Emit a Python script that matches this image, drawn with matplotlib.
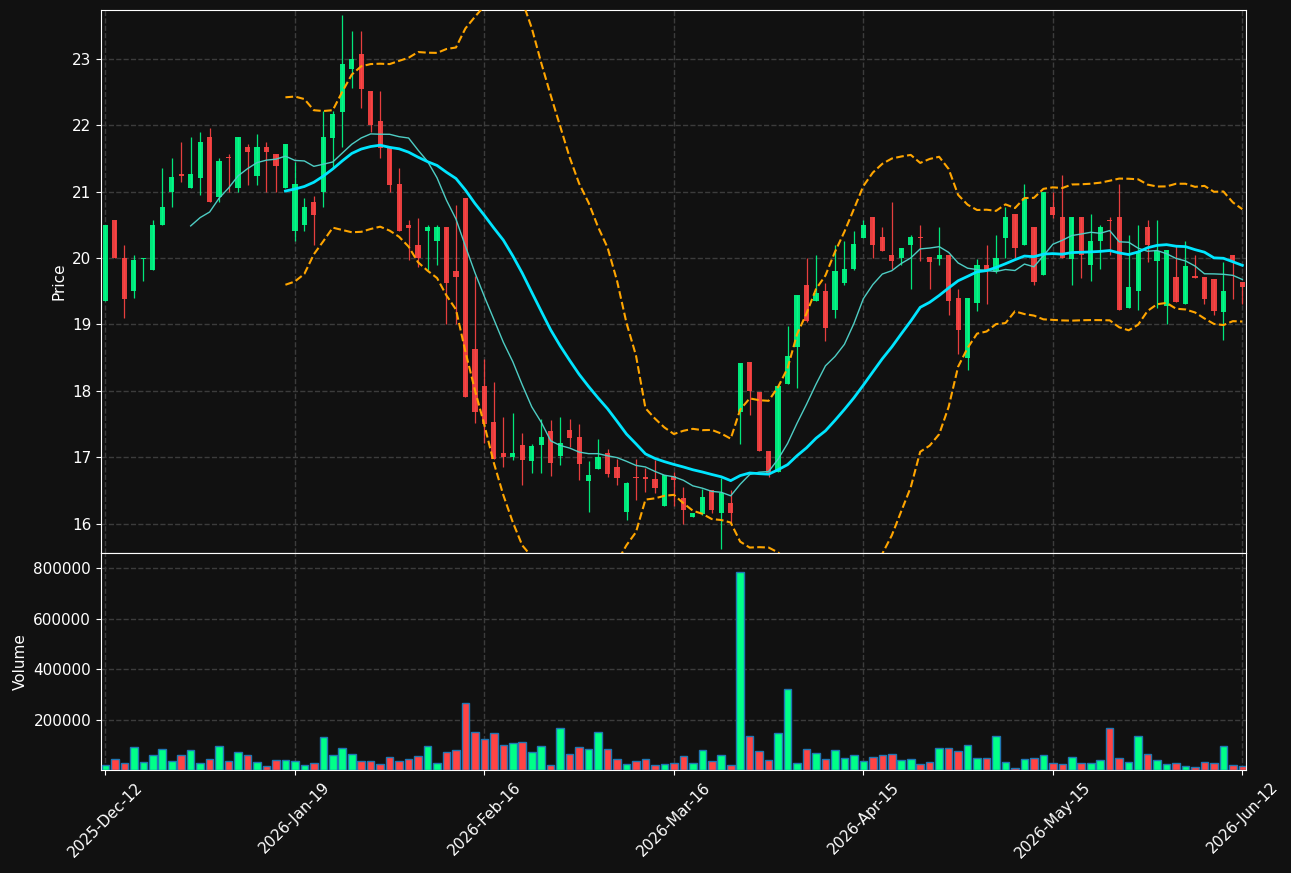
"""Candlestick chart with SMA10 / SMA20, Bollinger bands and a volume panel."""
import matplotlib

matplotlib.use("Agg")
import matplotlib.pyplot as plt
import numpy as np
import pandas as pd


# daily OHLC (bar index 0 = 2025-Dec-12, 120 = 2026-Jun-12)
opens = [
    19.35, 20.57, 20.00, 19.50, 19.98, 19.82, 20.50, 20.99, 21.26, 21.05,
    21.21, 21.82, 20.92, 21.52, 21.05, 21.67, 21.24, 21.67, 21.56, 21.05,
    20.40, 20.50, 20.85, 20.99, 21.81, 22.20, 22.84, 23.07, 22.51, 22.06,
    21.66, 21.11, 20.50, 20.20, 20.40, 20.26, 20.46, 19.81, 20.91, 18.63,
    18.07, 17.53, 17.07, 17.00, 17.19, 16.94, 17.19, 17.40, 17.02, 17.41,
    17.31, 16.65, 16.83, 17.07, 16.85, 16.18, 16.70, 16.70, 16.67, 16.27,
    16.72, 16.39, 16.10, 16.15, 16.51, 16.17, 16.31, 17.69, 18.43, 17.99,
    17.09, 16.78, 18.11, 18.66, 19.60, 19.36, 19.51, 19.22, 19.62, 19.83,
    20.30, 20.61, 20.31, 20.05, 20.00, 20.19, 20.31, 20.01, 19.99, 20.05,
    19.40, 18.49, 19.33, 19.90, 19.81, 20.30, 20.66, 20.19, 20.46, 19.75,
    20.76, 20.61, 19.99, 20.61, 19.89, 20.26, 20.57, 20.61, 19.25, 19.51,
    20.46, 19.95, 19.28, 19.71, 19.31, 19.73, 19.72, 19.69, 19.19, 20.05,
    19.64,
]
highs = [
    20.50, 20.57, 20.20, 20.05, 20.00, 20.57, 21.36, 21.51, 21.75, 21.82,
    21.90, 21.95, 21.51, 21.56, 21.82, 21.71, 21.86, 21.75, 21.56, 21.71,
    21.44, 20.90, 20.94, 22.21, 22.21, 23.65, 23.41, 23.41, 22.51, 22.51,
    21.66, 21.36, 20.57, 20.60, 20.50, 20.50, 20.46, 20.80, 20.91, 19.73,
    18.48, 18.14, 17.61, 17.67, 17.37, 17.20, 17.58, 17.57, 17.61, 17.58,
    17.51, 16.95, 17.28, 17.13, 16.98, 16.63, 16.98, 16.84, 16.96, 16.73,
    16.78, 16.56, 16.17, 16.53, 16.51, 16.69, 16.51, 18.42, 18.43, 17.99,
    17.09, 18.07, 18.97, 19.45, 20.00, 20.05, 19.62, 20.20, 20.26, 20.41,
    20.57, 20.61, 20.46, 20.85, 20.15, 20.35, 20.50, 20.01, 20.46, 20.05,
    19.53, 19.40, 19.99, 20.20, 20.35, 20.76, 20.66, 21.11, 20.46, 21.00,
    21.00, 21.25, 20.61, 20.61, 20.66, 20.50, 20.61, 21.11, 20.35, 20.50,
    20.57, 20.57, 20.12, 20.20, 20.26, 20.05, 19.72, 19.69, 19.94, 20.05,
    19.64,
]
lows = [
    19.35, 20.00, 19.10, 19.40, 19.65, 19.82, 20.50, 20.76, 21.15, 21.05,
    20.95, 20.84, 20.85, 21.00, 21.00, 21.10, 21.10, 21.00, 21.00, 21.05,
    20.26, 20.41, 20.20, 20.76, 21.36, 21.67, 22.55, 22.25, 21.90, 21.51,
    21.00, 20.40, 19.97, 19.87, 19.82, 19.90, 19.00, 19.00, 17.91, 17.52,
    17.21, 16.97, 16.86, 16.96, 16.59, 16.76, 16.76, 16.72, 16.89, 17.16,
    16.66, 16.18, 16.83, 16.70, 16.58, 16.06, 16.36, 16.48, 16.46, 16.27,
    16.27, 16.00, 16.10, 16.13, 16.16, 15.63, 16.01, 17.20, 17.64, 17.09,
    16.70, 16.78, 18.11, 18.05, 19.03, 19.36, 18.75, 19.10, 19.59, 19.82,
    20.30, 20.00, 20.11, 19.84, 19.90, 19.53, 19.95, 19.54, 19.90, 19.15,
    18.56, 18.32, 19.21, 19.31, 19.78, 20.00, 20.00, 20.19, 19.59, 19.75,
    20.60, 20.00, 19.60, 19.70, 19.66, 19.83, 20.05, 19.22, 19.25, 19.22,
    19.94, 19.25, 19.00, 19.34, 19.31, 19.70, 19.31, 19.15, 18.77, 19.39,
    19.31,
]
closes = [
    20.50, 20.00, 19.38, 19.97, 20.00, 20.50, 20.76, 21.22, 21.24, 21.26,
    21.75, 20.84, 21.46, 21.50, 21.82, 21.59, 21.67, 21.59, 21.39, 21.71,
    21.11, 20.76, 20.65, 21.82, 22.16, 22.92, 23.00, 22.54, 22.00, 21.66,
    21.10, 20.40, 20.45, 20.00, 20.46, 20.46, 19.62, 19.71, 17.91, 17.69,
    17.50, 16.97, 17.01, 17.07, 16.96, 17.17, 17.31, 16.91, 17.21, 17.30,
    16.90, 16.73, 17.01, 16.75, 16.69, 16.61, 16.69, 16.68, 16.54, 16.73,
    16.66, 16.21, 16.17, 16.40, 16.21, 16.47, 16.16, 18.42, 18.00, 17.09,
    16.75, 18.07, 18.53, 19.45, 19.06, 19.48, 18.94, 19.81, 19.84, 20.21,
    20.50, 20.19, 20.11, 19.95, 20.15, 20.31, 20.30, 19.94, 20.05, 19.35,
    18.91, 19.40, 19.90, 19.81, 20.00, 20.61, 20.15, 20.91, 19.64, 21.00,
    20.65, 20.00, 20.61, 20.04, 20.26, 20.46, 20.56, 19.22, 19.57, 20.11,
    20.19, 20.11, 20.12, 19.34, 19.88, 19.70, 19.39, 19.20, 19.51, 19.95,
    19.57,
]
volumes = [
    18400, 43400, 26300, 90800, 30300, 59200, 82900, 34200, 59200, 79000,
    26300, 43400, 94800, 35500, 71100, 59200, 31600, 15800, 39500, 39500,
    35500, 19700, 27600, 130300, 59200, 86900, 63200, 35500, 35500, 23700,
    51300, 35500, 43400, 55300, 94800, 27600, 71100, 79000, 264500, 150000,
    122400, 146100, 98700, 106600, 110500, 71100, 94800, 19700, 165800, 63200,
    90800, 82900, 150000, 82900, 43400, 23700, 35500, 43400, 19700, 23700,
    27600, 55300, 27600, 79000, 35500, 59200, 19700, 784000, 134200, 75000,
    39500, 146100, 319800, 27600, 82900, 67100, 43400, 79000, 47400, 59200,
    35500, 51300, 59200, 63200, 39500, 43400, 23700, 31600, 86900, 86900,
    75000, 98700, 47400, 47400, 134200, 31600, 7900, 43400, 47400, 59200,
    27600, 23700, 51300, 27600, 27600, 39500, 165800, 47400, 31600, 134200,
    63200, 39500, 23700, 27600, 15800, 11800, 31600, 27600, 94800, 19700,
    15800,
]

tick_positions = [0, 20, 40, 60, 80, 100, 120]
tick_labels = [
    "2025-Dec-12", "2026-Jan-19", "2026-Feb-16", "2026-Mar-16",
    "2026-Apr-15", "2026-May-15", "2026-Jun-12",
]

BG = "#111111"
UP = "#00FF88"
DOWN = "#FF4444"
GRID = "#3c3c3c"


def style_axes(ax):
    ax.set_facecolor(BG)
    for spine in ax.spines.values():
        spine.set_color("white")
    ax.tick_params(colors="white", labelsize=11)
    ax.grid(True, color=GRID, linestyle="--", linewidth=1.0)
    ax.set_axisbelow(True)


df = pd.DataFrame({"open": opens, "high": highs, "low": lows, "close": closes, "volume": volumes})
x = np.arange(len(df))
up = (df["close"] >= df["open"]).to_numpy()
colors = np.where(up, UP, DOWN)

ma10 = df["close"].rolling(10).mean()
ma20 = df["close"].rolling(20).mean()
std20 = df["close"].rolling(20).std(ddof=0)
bb_upper = ma20 + 2 * std20
bb_lower = ma20 - 2 * std20

fig = plt.figure(figsize=(12.91, 8.73), dpi=100, facecolor=BG)
ax_price = fig.add_axes([0.0782, 0.3671, 0.8869, 0.6214])
ax_vol = fig.add_axes([0.0782, 0.1180, 0.8869, 0.2491], sharex=ax_price)
style_axes(ax_price)
style_axes(ax_vol)

# candles
body_low = np.minimum(df["open"], df["close"])
body_h = np.maximum((df["close"] - df["open"]).abs(), 0.012)
ax_price.vlines(x, df["low"], df["high"], colors=colors, linewidth=0.9, alpha=0.9, zorder=2)
ax_price.bar(x, body_h, bottom=body_low, width=0.55, color=colors, alpha=0.9, zorder=3)

# indicators
ax_price.plot(x, bb_upper, color="#FFA500", linestyle="--", linewidth=1.5, zorder=4)
ax_price.plot(x, bb_lower, color="#FFA500", linestyle="--", linewidth=1.5, zorder=4)
ax_price.plot(x, ma10, color="#4ECDC4", linewidth=1.0, zorder=4)
ax_price.plot(x, ma20, color="#00E5FF", linewidth=2.0, zorder=5)

ax_price.set_ylim(15.57, 23.73)
ax_price.set_yticks(range(16, 24))
ax_price.set_ylabel("Price", color="white", fontsize=11)
ax_price.tick_params(labelbottom=False)

# volume
ax_vol.bar(x, df["volume"], width=0.8, color=colors, edgecolor="#1f77b4", linewidth=1.0, zorder=3)
ax_vol.set_ylim(0, df["volume"].max() * 1.1)
ax_vol.set_yticks([200000, 400000, 600000, 800000])
ax_vol.set_ylabel("Volume", color="white", fontsize=11)

ax_vol.set_xlim(-0.47, 120.38)
ax_vol.set_xticks(tick_positions)
ax_vol.set_xticklabels(tick_labels, rotation=45)

fig.savefig("out.png", dpi=100, facecolor=BG)
plt.close(fig)
